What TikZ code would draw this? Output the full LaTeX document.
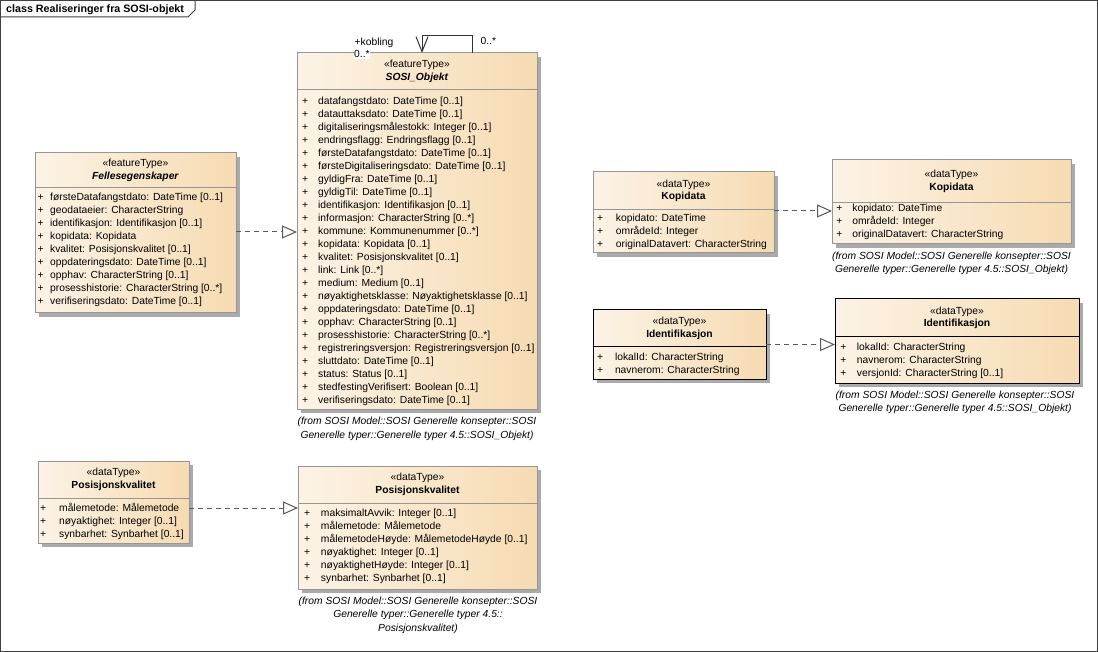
\documentclass[tikz,border=0pt]{standalone}
\usepackage{fontspec}
\setmainfont{Liberation Sans}
\usetikzlibrary{arrows.meta,shadows}
\definecolor{boxL}{RGB}{252,243,230}
\definecolor{boxR}{RGB}{246,219,178}
\definecolor{bordergray}{RGB}{150,150,150}
\definecolor{shadowgray}{RGB}{170,170,170}
\definecolor{linegray}{RGB}{90,90,90}
\newcommand\umlfont{\fontsize{10.3}{13}\selectfont}
\newcommand\hdrfont{\fontsize{10.3}{12.5}\selectfont}
\newcommand\notefont{\fontsize{10.3}{13.5}\selectfont\itshape}
\begin{document}
\begin{tikzpicture}[x=1pt,y=-1pt,
 umlbox/.style={draw=bordergray, line width=1pt, left color=boxL, right color=boxR, inner sep=0pt, outer sep=0pt, anchor=north west, drop shadow={shadow xshift=4pt,shadow yshift=-4pt,fill=shadowgray,opacity=1}},
 darkbox/.style={umlbox, draw=black},
 hdr/.style={font=\hdrfont, align=center, inner sep=0pt, text=black},
 attr/.style={font=\umlfont, anchor=base west, inner sep=0pt, text=black},
 note/.style={font=\notefont, align=center, inner sep=0pt, text=black},
 sepline/.style={draw=bordergray, line width=1pt},
 real/.style={draw=linegray, line width=1pt, dash pattern=on 5pt off 4pt, -{Triangle[length=15pt,width=13pt,fill=white]}},
 assoc/.style={draw=black!80, line width=1pt},
 lbl/.style={font=\umlfont, inner sep=0.5pt, text=black}]
\useasboundingbox (0,0) rectangle (1098,652);
% frame
\fill[white] (0,0) rectangle (1098,652);
\draw[black!75, line width=1pt] (0.5,0.5) rectangle (1097.5,651.5);
\draw[black!75, line width=1pt] (0.5,17) -- (188,17) -- (195,10) -- (195,0.5);
\node[font=\fontsize{10.7}{13}\selectfont\bfseries, anchor=base west, inner sep=0pt] (title) at (6,13) {class Realiseringer fra SOSI-objekt};

% SOSI_Objekt
\node[umlbox, minimum width=240pt, minimum height=356pt] (sosi) at (297,53) {};
\draw[sepline] (297,90) -- (537,90);
\node[hdr] (sosih) at (417,71.5) {«featureType»\\\textbf{\textit{SOSI\_Objekt}}};
\node[attr] (sosia) at (302,104.5) {\begin{tabular}[t]{@{}p{16pt}@{}l@{}}
+ & datafangstdato: DateTime [0..1]\\
+ & datauttaksdato: DateTime [0..1]\\
+ & digitaliseringsmålestokk: Integer [0..1]\\
+ & endringsflagg: Endringsflagg [0..1]\\
+ & førsteDatafangstdato: DateTime [0..1]\\
+ & førsteDigitaliseringsdato: DateTime [0..1]\\
+ & gyldigFra: DateTime [0..1]\\
+ & gyldigTil: DateTime [0..1]\\
+ & identifikasjon: Identifikasjon [0..1]\\
+ & informasjon: CharacterString [0..*]\\
+ & kommune: Kommunenummer [0..*]\\
+ & kopidata: Kopidata [0..1]\\
+ & kvalitet: Posisjonskvalitet [0..1]\\
+ & link: Link [0..*]\\
+ & medium: Medium [0..1]\\
+ & nøyaktighetsklasse: Nøyaktighetsklasse [0..1]\\
+ & oppdateringsdato: DateTime [0..1]\\
+ & opphav: CharacterString [0..1]\\
+ & prosesshistorie: CharacterString [0..*]\\
+ & registreringsversjon: Registreringsversjon [0..1]\\
+ & sluttdato: DateTime [0..1]\\
+ & status: Status [0..1]\\
+ & stedfestingVerifisert: Boolean [0..1]\\
+ & verifiseringsdato: DateTime [0..1]
\end{tabular}};
\node[note] (sosin) at (417,429) {(from SOSI Model::SOSI Generelle konsepter::SOSI\\Generelle typer::Generelle typer 4.5::SOSI\_Objekt)};

% self association
\draw[assoc] ([xshift=55pt]sosi.north) -- ++(0,-17) -| ([xshift=5pt,yshift=17pt]sosi.north);
\draw[assoc, -{Straight Barb[length=15pt,width=12pt]}] ([xshift=5pt,yshift=17pt]sosi.north) -- ([xshift=5pt]sosi.north);
\node[lbl, anchor=base west] (kobl) at (354,46) {+kobling};
\node[lbl, anchor=base west, fill=white] (kobm1) at (353.5,58) {0..*};
\node[lbl, anchor=base west] (kobm2) at (480,44.5) {0..*};

% Fellesegenskaper
\node[umlbox, minimum width=201pt, minimum height=160pt] (felles) at (35,153) {};
\draw[sepline] (35,188) -- (236,188);
\node[hdr] (fellesh) at (135.5,170.5) {«featureType»\\\textbf{\textit{Fellesegenskaper}}};
\node[attr] (fellesa) at (37.5,201) {\begin{tabular}[t]{@{}p{12.5pt}@{}l@{}}
+ & førsteDatafangstdato: DateTime [0..1]\\
+ & geodataeier: CharacterString\\
+ & identifikasjon: Identifikasjon [0..1]\\
+ & kopidata: Kopidata\\
+ & kvalitet: Posisjonskvalitet [0..1]\\
+ & oppdateringsdato: DateTime [0..1]\\
+ & opphav: CharacterString [0..1]\\
+ & prosesshistorie: CharacterString [0..*]\\
+ & verifiseringsdato: DateTime [0..1]
\end{tabular}};

% Posisjonskvalitet left
\node[umlbox, minimum width=151pt, minimum height=82pt] (posl) at (38,461) {};
\draw[sepline] (38,498) -- (189,498);
\node[hdr] (poslh) at (113.5,479.5) {«dataType»\\\textbf{Posisjonskvalitet}};
\node[attr] (posla) at (40,511.5) {\begin{tabular}[t]{@{}p{19pt}@{}l@{}}
+ & målemetode: Målemetode\\
+ & nøyaktighet: Integer [0..1]\\
+ & synbarhet: Synbarhet [0..1]
\end{tabular}};

% Posisjonskvalitet right
\node[umlbox, minimum width=239pt, minimum height=123pt] (posr) at (298,466) {};
\draw[sepline] (298,503) -- (537,503);
\node[hdr] (posrh) at (417.5,484.5) {«dataType»\\\textbf{Posisjonskvalitet}};
\node[attr] (posra) at (303.8,516.8) {\begin{tabular}[t]{@{}p{17pt}@{}l@{}}
+ & maksimaltAvvik: Integer [0..1]\\
+ & målemetode: Målemetode\\
+ & målemetodeHøyde: MålemetodeHøyde [0..1]\\
+ & nøyaktighet: Integer [0..1]\\
+ & nøyaktighetHøyde: Integer [0..1]\\
+ & synbarhet: Synbarhet [0..1]
\end{tabular}};
\node[note] (posrn) at (418,615) {(from SOSI Model::SOSI Generelle konsepter::SOSI\\Generelle typer::Generelle typer 4.5::\\Posisjonskvalitet)};

% Kopidata left
\node[umlbox, minimum width=181pt, minimum height=81pt] (kopl) at (593,172) {};
\draw[sepline] (593,210) -- (774,210);
\node[hdr] (koplh) at (683.5,191) {«dataType»\\\textbf{Kopidata}};
\node[attr] (kopla) at (596.8,221.5) {\begin{tabular}[t]{@{}p{19pt}@{}l@{}}
+ & kopidato: DateTime\\
+ & områdeId: Integer\\
+ & originalDatavert: CharacterString
\end{tabular}};

% Kopidata right
\node[umlbox, minimum width=239pt, minimum height=84pt] (kopr) at (832,160) {};
\draw[sepline] (832,203) -- (1071,203);
\node[hdr] (koprh) at (951.5,181.5) {«dataType»\\\textbf{Kopidata}};
\node[attr] (kopra) at (836.2,211.5) {\begin{tabular}[t]{@{}p{16pt}@{}l@{}}
+ & kopidato: DateTime\\
+ & områdeId: Integer\\
+ & originalDatavert: CharacterString
\end{tabular}};
\node[note] (koprn) at (951.5,263.5) {(from SOSI Model::SOSI Generelle konsepter::SOSI\\Generelle typer::Generelle typer 4.5::SOSI\_Objekt)};

% Identifikasjon left
\node[darkbox, minimum width=173pt, minimum height=69pt] (idl) at (593,310) {};
\draw[line width=1pt] (593,347) -- (766,347);
\node[hdr] (idlh) at (679.5,328.5) {«dataType»\\\textbf{Identifikasjon}};
\node[attr] (idla) at (596.8,361) {\begin{tabular}[t]{@{}p{18pt}@{}l@{}}
+ & lokalId: CharacterString\\
+ & navnerom: CharacterString
\end{tabular}};

% Identifikasjon right
\node[darkbox, minimum width=244pt, minimum height=84pt] (idr) at (835,299) {};
\draw[line width=1pt] (835,337) -- (1079,337);
\node[hdr] (idrh) at (957,318) {«dataType»\\\textbf{Identifikasjon}};
\node[attr] (idra) at (840.2,350.5) {\begin{tabular}[t]{@{}p{16.5pt}@{}l@{}}
+ & lokalId: CharacterString\\
+ & navnerom: CharacterString\\
+ & versjonId: CharacterString [0..1]
\end{tabular}};
\node[note] (idrn) at (955,402.5) {(from SOSI Model::SOSI Generelle konsepter::SOSI\\Generelle typer::Generelle typer 4.5::SOSI\_Objekt)};

% realizations
\draw[real] ([yshift=1pt]felles.east) -- ([yshift=1pt]felles.east -| sosi.west);
\draw[real] ([yshift=-6pt]posl.east) -- ([yshift=-6pt]posl.east -| posr.west);
\draw[real] ([yshift=1.5pt]kopl.east) -- ([yshift=1.5pt]kopl.east -| kopr.west);
\draw[real] (idl.east) -- (idl.east -| idr.west);
\end{tikzpicture}
\end{document}
